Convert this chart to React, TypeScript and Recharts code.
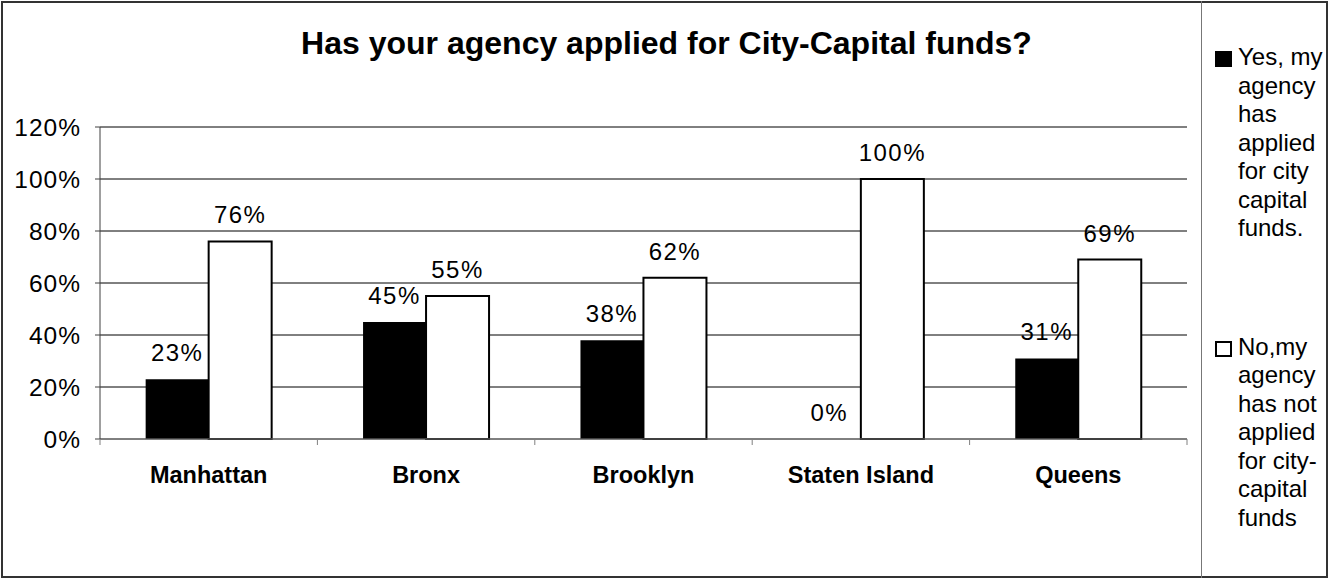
// Survey chart — "Has your agency applied for City-Capital funds?" by borough.
// Plain black/white grouped bars, Excel-style frame with a side legend.

import { BarChart, Bar, XAxis, YAxis, CartesianGrid, Legend, LabelList } from 'recharts';

const BOROUGHS = ['Manhattan', 'Bronx', 'Brooklyn', 'Staten Island', 'Queens'];
const YES_PCT = [23, 45, 38, 0, 31];
const NO_PCT = [76, 55, 62, 100, 69];
const Y_TICKS = [0, 20, 40, 60, 80, 100, 120];

const YES_NAME = 'Yes, my agency has applied for city capital funds.';
const NO_NAME = 'No,my agency has not applied for city-capital funds';
const LEGEND_ORDER = [YES_NAME, NO_NAME];

const CHART_W = 1333;
const CHART_H = 579;
const MARGIN = { top: 127, right: 146, bottom: 110, left: 0 };
const Y_AXIS_W = 100;
const BAND_W = (CHART_W - MARGIN.left - MARGIN.right - Y_AXIS_W) / BOROUGHS.length;

const FONT = '"Liberation Sans", Arial, sans-serif';
const AXIS_GRAY = '#808080';

const data = BOROUGHS.map((b, i) => ({ borough: b, yes: YES_PCT[i], no: NO_PCT[i] }));

// Category tick: bold label centred in the band, tick marks on band edges.
function CategoryTick({ x, y, payload, index }: any) {
  const half = BAND_W / 2;
  return (
    <g>
      {index === 0 && <line x1={x - half} x2={x - half} y1={y} y2={y + 6} stroke={AXIS_GRAY} />}
      <line x1={x + half} x2={x + half} y1={y} y2={y + 6} stroke={AXIS_GRAY} />
      <text x={x} y={y + 44} textAnchor="middle" fontFamily={FONT} fontWeight="bold" fontSize={23.5} fill="#000">
        {payload.value}
      </text>
    </g>
  );
}

function SideLegend({ payload }: any) {
  if (!payload?.length) return null;
  const items = [...payload].sort((a: any, b: any) => LEGEND_ORDER.indexOf(a.value) - LEGEND_ORDER.indexOf(b.value));
  return (
    <div style={{ fontFamily: FONT, fontSize: 24, lineHeight: '28.5px', color: '#000' }}>
      {items.map((p: any, i: number) => (
        <div key={p.value} style={{ display: 'flex', alignItems: 'flex-start', marginTop: i === 0 ? 0 : 90 }}>
          <span style={{
            display: 'inline-block', width: 17, height: 16, marginTop: 8, marginRight: 6, boxSizing: 'border-box',
            backgroundColor: p.color, border: '2px solid #000', flex: 'none',
          }} />
          <span style={{ width: 90 }}>{p.value}</span>
        </div>
      ))}
    </div>
  );
}

export default function App() {
  return (
    <div style={{ position: 'absolute', left: 0, top: 0, width: CHART_W, height: CHART_H, background: '#fff' }}>
      {/* outer frame + legend divider */}
      <div style={{ position: 'absolute', left: 1, top: 1, width: 1327, height: 577, border: '2px solid #333', boxSizing: 'border-box' }} />
      <div style={{ position: 'absolute', left: 1201, top: 1, width: 1, height: 577, background: '#777' }} />
      <div style={{
        position: 'absolute', left: 0, top: 27, width: CHART_W, textAlign: 'center',
        fontFamily: FONT, fontWeight: 'bold', fontSize: 32, lineHeight: '32px', color: '#000',
      }}>
        Has your agency applied for City-Capital funds?
      </div>
      <BarChart width={CHART_W} height={CHART_H} data={data} margin={MARGIN} barCategoryGap="21%" barGap={0}>
        <CartesianGrid vertical={false} stroke="#000" />
        <XAxis dataKey="borough" height={30} axisLine={{ stroke: AXIS_GRAY }} tickLine={false} tickSize={0} tickMargin={0}
          tick={<CategoryTick />} interval={0} />
        <YAxis width={Y_AXIS_W} domain={[0, 120]} ticks={Y_TICKS} interval={0} tickFormatter={(v) => `${v}%`}
          axisLine={{ stroke: '#404040' }} tickLine={{ stroke: '#404040' }} tickSize={5} tickMargin={14}
          tick={{ fill: '#000', fontSize: 24.5, fontFamily: FONT, letterSpacing: 1 }} />
        <Legend layout="horizontal" verticalAlign="middle" align="center" content={<SideLegend />}
          wrapperStyle={{ position: 'absolute', left: 1215, top: 43.4, width: 115, height: 'auto' }} />
        <Bar dataKey="yes" name={YES_NAME} fill="#000" minPointSize={0.01} isAnimationActive={false}>
          <LabelList dataKey="yes" position="top" offset={18} formatter={(v: any) => `${v}%`}
            fill="#000" fontSize={24} fontFamily={FONT} letterSpacing={1.5} />
        </Bar>
        <Bar dataKey="no" name={NO_NAME} fill="#fff" stroke="#000" strokeWidth={2} isAnimationActive={false}>
          <LabelList dataKey="no" position="top" offset={18} formatter={(v: any) => `${v}%`}
            fill="#000" fontSize={24} fontFamily={FONT} letterSpacing={1.5} />
        </Bar>
      </BarChart>
    </div>
  );
}
